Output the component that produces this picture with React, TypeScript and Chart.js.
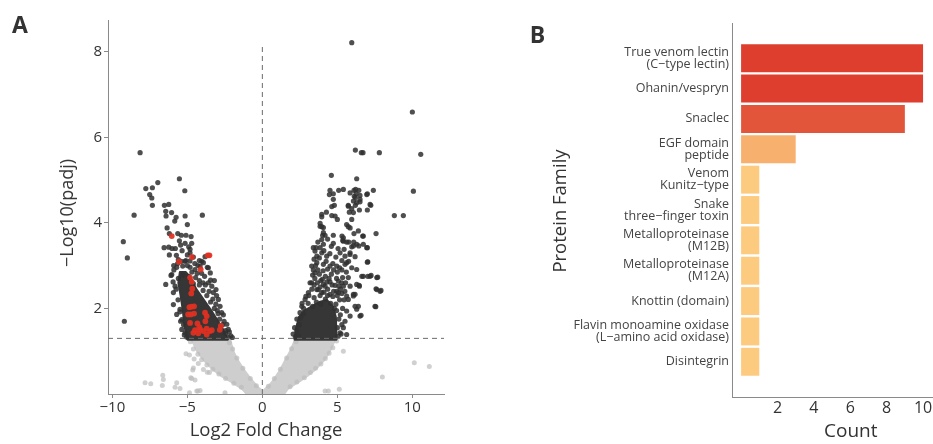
import { useEffect, useRef } from 'react';
import { Chart, registerables } from 'chart.js';

Chart.register(...registerables);

const FONT = "'Open Sans', sans-serif";

// ---------- Panel A: volcano plot ----------
const X_MIN = -10.29;
const X_MAX = 12.11;
const Y_MIN = 0;
const Y_MAX = 8.74;
const X_TICKS = [-10, -5, 0, 5, 10];
const Y_TICKS = [2, 4, 6, 8];
const PADJ_CUTOFF = 1.3; // -log10(0.05)
const CENTER_LINE_TOP = 8.2;

type Pt = [number, number];

// outline of the dense non-significant cloud (two arms of the V)
const NS_CLOUD_LEFT: Pt[] = [
  [-4.75, 1.29], [-4.55, 1.15], [-4.35, 1.0], [-4.1, 0.88], [-3.85, 0.77], [-3.5, 0.64],
  [-3.15, 0.53], [-2.7, 0.41], [-2.15, 0.3], [-1.75, 0.21], [-1.35, 0.12], [-1.05, 0.0],
  [0.02, 0.0], [0.03, 0.07], [-0.27, 0.15], [-0.64, 0.3], [-0.9, 0.41], [-1.15, 0.53],
  [-1.4, 0.66], [-1.6, 0.77], [-1.8, 0.9], [-1.93, 1.0], [-2.05, 1.15], [-2.15, 1.29],
];
const NS_CLOUD_RIGHT: Pt[] = [
  [2.2, 1.29], [2.0, 1.12], [1.85, 1.0], [1.7, 0.9], [1.5, 0.77], [1.3, 0.64], [1.13, 0.53],
  [0.9, 0.41], [0.69, 0.3], [0.45, 0.2], [0.29, 0.15], [0.05, 0.07], [0.0, 0.0], [1.45, 0.0],
  [1.7, 0.12], [2.1, 0.21], [2.5, 0.3], [3.0, 0.42], [3.4, 0.53], [3.75, 0.65], [4.07, 0.77],
  [4.3, 0.88], [4.5, 1.0], [4.7, 1.15], [4.85, 1.29],
];

// scattered non-significant genes
const NS_POINTS: Pt[] = [
  [-7.82, 0.26], [-7.44, 0.24], [-6.64, 0.44], [-6.6, 0.34], [-6.67, 0.2], [-5.71, 0.26],
  [-5.82, 0.16], [-5.49, 0.13], [-4.77, 0.38], [-4.49, 0.33], [-5.09, 0.94], [-4.86, 0.91],
  [-4.6, 0.61], [-4.27, 0.71], [-4.55, 0.82], [-3.93, 0.57], [-3.67, 0.51], [-4.86, 0.03],
  [-4.3, 0.07], [-3.53, 0.5], [-2.49, 0.03], [-4.71, 0.36], [-4.64, 0.56], [-4.15, 0.08],
  [-4.37, 0.07], [4.18, 0.07], [4.4, 0.07], [5.13, 0.11], [5.4, 1.0], [8.0, 0.4],
  [10.13, 0.73], [11.13, 0.64],
  [-4.8, 1.22], [-4.6, 1.05], [-4.3, 0.93], [-4.05, 0.8], [-3.7, 0.68], [-3.3, 0.58],
  [-2.9, 0.47], [-2.45, 0.36], [-1.9, 0.25], [-1.4, 0.16], [4.95, 1.24], [4.7, 1.08],
  [4.45, 0.95], [4.2, 0.83], [3.9, 0.7], [3.55, 0.6], [3.2, 0.5], [2.8, 0.38], [2.3, 0.28],
  [1.85, 0.17], [-2.2, 1.2], [-1.98, 1.05], [-1.7, 0.84], [-1.3, 0.6], [-0.8, 0.36],
  [-0.4, 0.19], [2.25, 1.22], [1.95, 1.06], [1.62, 0.84], [1.2, 0.58], [0.8, 0.36], [0.4, 0.18],
];

// outline of the densest significant clusters
const SIG_CORE_LEFT: Pt[] = [
  [-5.0, 1.27], [-5.2, 1.6], [-5.3, 1.95], [-5.45, 2.3], [-5.6, 2.6], [-5.5, 2.85],
  [-5.1, 2.85], [-4.75, 2.7], [-4.4, 2.45], [-3.9, 2.2], [-3.4, 1.95], [-2.95, 1.7],
  [-2.6, 1.5], [-2.3, 1.27],
];
const SIG_CORE_RIGHT: Pt[] = [
  [2.15, 1.27], [2.25, 1.55], [2.45, 1.8], [2.8, 1.95], [3.3, 2.05], [3.8, 2.15],
  [4.3, 2.2], [4.7, 2.05], [4.9, 1.8], [4.95, 1.27],
];

// significant genes, down-regulated side
const SIG_LEFT: Pt[] = [
  [-8.15, 5.64], [-9.27, 3.56], [-9.0, 3.18], [-9.2, 1.7], [-8.55, 4.18], [-7.77, 4.8],
  [-7.33, 4.82], [-6.97, 4.94], [-7.51, 4.66], [-7.37, 4.58], [-7.33, 4.41], [-5.53, 5.03],
  [-5.17, 4.75], [-4.0, 4.18], [-6.53, 4.41], [-6.24, 4.43], [-6.44, 4.27], [-6.05, 4.24],
  [-6.42, 4.16], [-5.75, 4.13], [-5.15, 4.16], [-5.84, 4.04], [-5.0, 3.96], [-6.35, 3.88],
  [-6.2, 3.75], [-5.64, 3.75], [-5.4, 3.71], [-5.09, 3.71], [-4.75, 3.68], [-5.53, 3.58],
  [-5.15, 3.52], [-4.71, 3.52], [-4.91, 3.44], [-6.55, 3.42], [-6.24, 3.43], [-6.02, 3.4],
  [-5.8, 3.4], [-4.82, 3.38], [-4.82, 3.3], [-6.2, 3.25], [-3.82, 3.21], [-5.73, 3.24],
  [-5.6, 3.14], [-5.15, 3.1], [-4.82, 3.11], [-4.2, 3.12], [-4.04, 3.1], [-5.91, 3.0],
  [-5.71, 2.96], [-5.31, 2.99], [-4.82, 2.96], [-4.49, 2.91], [-3.67, 2.96], [-3.47, 2.83],
  [-6.09, 2.77], [-6.44, 2.56], [-6.04, 2.79], [-3.6, 2.6], [-3.37, 2.52], [-3.27, 2.37],
  [-3.09, 2.44], [-2.93, 2.21], [-2.82, 2.05], [-2.71, 1.9], [-2.55, 1.7], [-2.37, 1.63],
  [-2.27, 1.51], [-5.49, 1.98], [-5.71, 1.86], [-5.93, 2.09], [-5.37, 1.74], [-5.37, 1.51],
  [-5.15, 1.43], [-5.93, 2.37], [-5.82, 2.52], [-4.15, 2.99], [-3.93, 3.07], [-3.6, 2.95],
  [-2.1, 1.36], [-2.2, 1.45], [-3.85, 2.75], [-4.05, 2.82], [-3.45, 2.66], [-4.6, 3.2],
  [-5.0, 3.25], [-5.35, 3.35], [-5.45, 3.48], [-4.5, 3.05], [-3.2, 2.65], [-4.2, 2.65],
  [-3.05, 2.3], [-2.6, 1.85], [-2.45, 1.48], [-5.05, 1.33], [-5.25, 1.62],
  [-5.2, 1.38], [-5.45, 1.7], [-5.5, 1.92], [-5.62, 2.2], [-5.75, 2.45], [-5.95, 2.62],
  [-5.9, 2.9], [-5.65, 3.05], [-5.4, 3.1], [-5.0, 3.0], [-4.7, 2.85], [-4.45, 2.72],
  [-4.2, 2.55], [-3.95, 2.42], [-3.7, 2.3], [-3.45, 2.15], [-3.2, 2.0], [-3.0, 1.95],
  [-2.85, 1.75], [-2.65, 1.62], [-2.45, 1.42], [-2.3, 1.33], [-2.0, 1.32], [-5.6, 2.7],
  [-5.3, 2.78], [-4.9, 2.75], [-4.6, 2.58], [-4.35, 2.82], [-3.8, 2.55], [-3.55, 2.4],
  [-3.3, 2.22], [-3.1, 2.1], [-2.95, 1.88], [-5.1, 3.12], [-4.3, 3.0], [-3.95, 2.6],
];

// significant genes, up-regulated side
const SIG_RIGHT: Pt[] = [
  [5.96, 8.21], [10.0, 6.59], [10.56, 5.6], [6.2, 5.7], [6.6, 5.64], [6.71, 5.64], [7.8, 5.64],
  [4.6, 5.11], [6.29, 5.03], [10.07, 4.74], [4.51, 4.76], [5.09, 4.76], [5.4, 4.78], [5.85, 4.7],
  [6.11, 4.76], [6.43, 4.76], [6.25, 4.68], [6.51, 4.64], [7.0, 4.68], [7.4, 4.76], [4.73, 4.68],
  [4.47, 4.66], [6.2, 4.59], [6.07, 4.51], [4.8, 4.41], [4.63, 4.38], [5.73, 4.41], [6.2, 4.41],
  [5.96, 4.33], [6.47, 4.3], [7.0, 4.3], [7.23, 4.41], [5.8, 4.25], [4.27, 4.25], [3.96, 4.14],
  [4.63, 4.17], [8.8, 4.17], [9.4, 4.17], [5.0, 4.08], [5.96, 4.08], [3.85, 3.99], [3.96, 3.91],
  [4.07, 3.89], [5.62, 3.96], [5.73, 3.91], [5.85, 3.88], [6.11, 3.75], [6.73, 3.69], [7.58, 3.75],
  [4.02, 3.71], [4.18, 3.71], [4.73, 3.71], [5.31, 3.69], [3.96, 3.61], [5.4, 3.57], [5.76, 3.55],
  [6.09, 3.55], [6.43, 3.46], [6.73, 3.5], [7.0, 3.42], [3.58, 3.42], [3.85, 3.42], [4.07, 3.5],
  [4.73, 3.52], [5.36, 3.59], [5.96, 3.44], [6.29, 3.5], [3.51, 3.34], [3.96, 3.3], [4.29, 3.22],
  [5.18, 3.3], [5.51, 3.22], [5.84, 3.26], [6.18, 3.21], [7.0, 3.08], [3.63, 3.07], [4.07, 3.03],
  [4.51, 2.99], [4.96, 2.99], [5.51, 3.03], [5.96, 2.95], [6.29, 2.91], [6.63, 2.75], [7.18, 2.75],
  [7.63, 2.72], [3.29, 2.6], [3.67, 2.6], [4.07, 2.56], [4.51, 2.62], [4.85, 2.54], [5.29, 2.6],
  [5.85, 2.52], [6.29, 2.56], [6.47, 2.52], [7.63, 2.44], [7.85, 2.4], [3.63, 2.44], [3.96, 2.37],
  [4.51, 2.33], [5.07, 2.37], [5.62, 2.29], [6.07, 2.33], [6.4, 2.05], [6.29, 1.98], [7.51, 2.05],
  [6.51, 1.82], [3.96, 4.2], [4.85, 4.16], [3.85, 3.92], [4.07, 3.77], [3.4, 3.42], [3.63, 3.22],
  [3.29, 2.99], [3.51, 2.83], [3.18, 2.6], [3.07, 2.37], [2.85, 2.21], [2.63, 2.05], [2.51, 1.9],
  [3.73, 2.44], [4.18, 2.52], [5.07, 2.64], [5.4, 2.52], [5.73, 2.72], [5.62, 3.07], [5.85, 3.3],
  [6.07, 3.46], [5.62, 3.55], [5.4, 3.65], [6.4, 3.81], [6.07, 4.24], [5.73, 4.39], [6.29, 4.47],
  [6.51, 4.55], [6.13, 4.62], [6.22, 4.78], [4.73, 4.55], [7.69, 2.73], [7.58, 2.46], [7.91, 2.42],
  [7.56, 2.04], [7.03, 3.09], [6.96, 3.42], [6.69, 3.69], [6.73, 2.75], [7.03, 2.75], [7.25, 2.77],
  [6.45, 2.54], [6.58, 1.84], [6.18, 2.33], [7.18, 4.43], [6.51, 4.49], [6.96, 4.66], [5.73, 2.21],
  [6.07, 2.29], [6.18, 2.05], [5.62, 1.94], [5.85, 1.82], [5.51, 1.7], [5.4, 1.55], [5.62, 1.39],
  [5.18, 1.43], [5.25, 1.4], [5.3, 1.62], [5.2, 1.85], [5.35, 2.0], [5.15, 2.2], [2.05, 1.4],
  [2.15, 1.55], [2.3, 1.75], [2.65, 2.12], [2.9, 2.28], [3.4, 2.9], [3.8, 2.8], [4.2, 2.75],
  [4.6, 2.8], [5.0, 2.85], [5.3, 2.9], [3.5, 2.7], [3.9, 2.65], [4.35, 2.45], [4.75, 2.4],
  [5.2, 2.45], [5.5, 2.4], [3.3, 2.45],
  [2.75, 2.0], [3.05, 2.12], [3.35, 2.05], [3.6, 2.15], [3.9, 2.1], [4.2, 2.22], [4.55, 2.12],
  [4.8, 2.0], [5.0, 2.3], [4.9, 2.1], [3.1, 2.3], [3.45, 2.25], [3.85, 2.3], [4.1, 2.38],
  [4.35, 2.3], [4.7, 2.28], [4.95, 2.4], [5.3, 2.35], [5.45, 2.2], [3.45, 2.55], [3.85, 2.5],
  [4.3, 2.62], [4.65, 2.55], [5.1, 2.52], [5.55, 2.6], [4.0, 2.68], [4.45, 2.7], [4.95, 2.7],
  [5.35, 2.72], [3.35, 2.78], [3.7, 2.9], [4.05, 2.88], [4.35, 2.92], [4.75, 2.9], [5.15, 2.95],
  [5.6, 2.85], [3.55, 3.0], [4.25, 3.1], [4.7, 3.05], [5.3, 3.12], [5.75, 3.1], [3.45, 3.15],
  [3.8, 3.18], [4.1, 3.35], [4.5, 3.28], [4.9, 3.2], [5.05, 3.4], [5.45, 3.38], [4.6, 3.45],
  [3.7, 3.55], [4.35, 3.62], [2.2, 1.33], [2.3, 1.48], [2.45, 1.62], [2.55, 1.78], [2.75, 1.88],
  [2.4, 1.36], [5.05, 1.35], [5.0, 1.55], [5.1, 1.75], [4.95, 1.95],
];

// highlighted toxin genes
const TOXIN_POINTS: Pt[] = [
  [-6.04, 3.69], [-4.69, 3.2], [-3.64, 3.24], [-3.53, 3.24], [-5.55, 3.09], [-4.11, 2.91],
  [-4.82, 2.72], [-4.71, 2.62], [-4.67, 2.46], [-4.74, 2.35], [-4.86, 2.03], [-4.71, 2.04],
  [-4.55, 2.05], [-4.95, 1.86], [-4.77, 1.86], [-4.55, 1.88], [-3.82, 1.9], [-3.71, 1.82],
  [-4.82, 1.66], [-4.33, 1.65], [-4.2, 1.56], [-3.8, 1.7], [-4.49, 1.49], [-4.15, 1.51],
  [-3.93, 1.47], [-3.71, 1.53], [-3.49, 1.47], [-3.37, 1.49], [-2.77, 1.59], [-2.84, 1.5],
  [-3.71, 1.39], [-4.27, 1.42], [-4.6, 1.43],
];

// ---------- Panel B: protein families ----------
const FAMILY_LABELS: string[][] = [
  ['True venom lectin', '(C\u2212type lectin)'],
  ['Ohanin/vespryn'],
  ['Snaclec'],
  ['EGF domain', 'peptide'],
  ['Venom', 'Kunitz\u2212type'],
  ['Snake', 'three\u2212finger toxin'],
  ['Metalloproteinase', '(M12B)'],
  ['Metalloproteinase', '(M12A)'],
  ['Knottin (domain)'],
  ['Flavin monoamine oxidase', '(L\u2212amino acid oxidase)'],
  ['Disintegrin'],
];
const FAMILY_COUNTS = [10, 10, 9, 3, 1, 1, 1, 1, 1, 1, 1];
const COUNT_TICKS = [2, 4, 6, 8, 10];

// fill colour graded by count
const countColor = (c: number) =>
  c >= 10 ? '#DD3E2E' : c >= 9 ? '#E3553A' : c >= 3 ? '#F7B06E' : '#FDCB80';

const toXY = (pts: Pt[]) => pts.map(([x, y]) => ({ x, y }));
const minus = (v: number) => (v < 0 ? '\u2212' + Math.abs(v) : String(v));

// fills a closed outline given in data coordinates
const polygonFill = {
  id: 'polygonFill',
  beforeDatasetDraw(chart: any, args: any) {
    const ds = chart.data.datasets[args.index];
    if (!ds.outlineColor) return;
    const { ctx, chartArea: a } = chart;
    const xs = chart.scales.x;
    const ys = chart.scales.y;
    ctx.save();
    ctx.beginPath();
    ctx.rect(a.left, a.top, a.right - a.left, a.bottom - a.top);
    ctx.clip();
    ctx.beginPath();
    ds.data.forEach((p: any, i: number) => {
      const px = xs.getPixelForValue(p.x);
      const py = ys.getPixelForValue(p.y);
      if (i === 0) ctx.moveTo(px, py);
      else ctx.lineTo(px, py);
    });
    ctx.closePath();
    ctx.fillStyle = ds.outlineColor;
    ctx.strokeStyle = ds.outlineColor;
    ctx.lineJoin = 'round';
    ctx.lineWidth = 2;
    ctx.fill();
    ctx.stroke();
    ctx.restore();
  },
};

const axisGrid = { display: true, drawOnChartArea: false, drawTicks: true, tickLength: 4, color: '#8a8a8a' };
const axisBorder = { display: true, color: '#8a8a8a', width: 1 };
const noGrid = { display: false, drawTicks: false, tickLength: 0 };

const outline = (pts: Pt[], color: string, order: number) => ({
  type: 'scatter' as const,
  data: toXY(pts),
  outlineColor: color,
  pointRadius: 0,
  showLine: false,
  order,
});

const dots = (pts: Pt[], color: string, radius: number, order: number) => ({
  type: 'scatter' as const,
  data: toXY(pts),
  backgroundColor: color,
  borderWidth: 0,
  pointRadius: radius,
  order,
});

const dashed = (pts: Pt[]) => ({
  type: 'line' as const,
  data: toXY(pts),
  borderColor: '#6b6b6b',
  borderWidth: 1,
  borderDash: [5, 4],
  pointRadius: 0,
  fill: false,
  order: 0,
});

const textStyle = (size: number, bold = false): any => ({
  position: 'absolute',
  fontFamily: FONT,
  fontSize: size,
  fontWeight: bold ? 700 : 400,
  color: '#333',
  lineHeight: 1,
  whiteSpace: 'nowrap',
});

export default function App() {
  const volcanoRef = useRef<HTMLCanvasElement>(null);
  const barRef = useRef<HTMLCanvasElement>(null);

  useEffect(() => {
    const volcano = new Chart(volcanoRef.current as HTMLCanvasElement, {
      type: 'scatter',
      data: {
        datasets: [
          outline(NS_CLOUD_LEFT, '#CECECE', 7),
          outline(NS_CLOUD_RIGHT, '#CECECE', 7),
          dots(NS_POINTS, 'rgba(188,188,188,0.7)', 2.5, 6),
          outline(SIG_CORE_LEFT, '#363636', 5),
          outline(SIG_CORE_RIGHT, '#363636', 5),
          dots(SIG_LEFT, 'rgba(48,48,48,0.85)', 2.6, 4),
          dots(SIG_RIGHT, 'rgba(48,48,48,0.85)', 2.6, 4),
          dots(TOXIN_POINTS, 'rgba(224,48,33,0.93)', 2.9, 2),
          dashed([[X_MIN, PADJ_CUTOFF], [X_MAX, PADJ_CUTOFF]]),
          dashed([[0, Y_MIN], [0, CENTER_LINE_TOP]]),
        ] as any,
      },
      options: {
        animation: false,
        responsive: false,
        events: [],
        layout: { padding: { top: 20, right: 16, left: 0, bottom: 0 } },
        plugins: { legend: { display: false }, tooltip: { enabled: false } },
        scales: {
          x: {
            type: 'linear',
            min: X_MIN,
            max: X_MAX,
            afterBuildTicks: (s: any) => {
              s.ticks = X_TICKS.map((value) => ({ value }));
            },
            afterFit: (s: any) => {
              s.height = 50;
            },
            ticks: {
              callback: (v: any) => minus(Number(v)),
              font: { family: FONT, size: 15 },
              color: '#333',
              padding: 1,
              maxRotation: 0,
            },
            grid: axisGrid,
            border: axisBorder,
          },
          y: {
            type: 'linear',
            min: Y_MIN,
            max: Y_MAX,
            afterBuildTicks: (s: any) => {
              s.ticks = Y_TICKS.map((value) => ({ value }));
            },
            afterFit: (s: any) => {
              s.width = 108;
            },
            ticks: {
              callback: (v: any) => String(v),
              font: { family: FONT, size: 15 },
              color: '#333',
              padding: 2,
            },
            grid: axisGrid,
            border: axisBorder,
          },
        },
      } as any,
      plugins: [polygonFill],
    });

    const bars = new Chart(barRef.current as HTMLCanvasElement, {
      type: 'bar',
      data: {
        datasets: [
          {
            data: FAMILY_COUNTS.map((c, i) => ({ x: c, y: i })),
            backgroundColor: FAMILY_COUNTS.map(countColor),
            borderWidth: 0,
            barPercentage: 0.92,
            categoryPercentage: 1,
          },
        ] as any,
      },
      options: {
        indexAxis: 'y',
        animation: false,
        responsive: false,
        events: [],
        layout: { padding: { top: 23, right: 10, left: 0, bottom: 0 } },
        plugins: { legend: { display: false }, tooltip: { enabled: false } },
        scales: {
          x: {
            type: 'linear',
            min: -0.5,
            max: 12.58,
            afterBuildTicks: (s: any) => {
              s.ticks = COUNT_TICKS.map((value) => ({ value }));
            },
            afterFit: (s: any) => {
              s.height = 47;
            },
            ticks: {
              callback: (v: any) => String(v),
              font: { family: FONT, size: 16 },
              color: '#333',
              padding: 2,
              maxRotation: 0,
            },
            grid: noGrid,
            border: axisBorder,
          },
          y: {
            type: 'linear',
            reverse: true,
            min: -0.6,
            max: 10.6,
            afterBuildTicks: (s: any) => {
              s.ticks = FAMILY_LABELS.map((_, value) => ({ value }));
            },
            afterFit: (s: any) => {
              s.width = 262;
            },
            ticks: {
              autoSkip: false,
              callback: (v: any) => FAMILY_LABELS[Number(v)] ?? '',
              font: { family: FONT, size: 12.5, lineHeight: '12px' },
              color: '#444',
              padding: 3,
            },
            grid: noGrid,
            border: axisBorder,
          },
        },
      } as any,
    });

    return () => {
      volcano.destroy();
      bars.destroy();
    };
  }, []);

  return (
    <div
      style={{
        position: 'fixed',
        left: 0,
        top: 0,
        width: 933,
        height: 444,
        overflow: 'hidden',
        background: '#fff',
      }}
    >
      <canvas ref={volcanoRef} width={460} height={444} style={{ position: 'absolute', left: 0, top: 0 }} />
      <canvas ref={barRef} width={510} height={444} style={{ position: 'absolute', left: 470, top: 0 }} />

      <div style={{ ...textStyle(23, true), left: 20, top: 23.5, transform: 'translate(-50%,-50%)' }}>A</div>
      <div style={{ ...textStyle(23, true), left: 537.5, top: 33.5, transform: 'translate(-50%,-50%)' }}>B</div>

      <div style={{ ...textStyle(18), left: 66, top: 212.5, transform: 'translate(-50%,-50%) rotate(-90deg)' }}>
        {'\u2212Log10(padj)'}
      </div>
      <div style={{ ...textStyle(18.5), left: 266, top: 428.5, transform: 'translate(-50%,-50%)' }}>
        Log2 Fold Change
      </div>
      <div style={{ ...textStyle(18.5), left: 558.8, top: 211.2, transform: 'translate(-50%,-50%) rotate(-90deg)' }}>
        Protein Family
      </div>
      <div style={{ ...textStyle(19), left: 850.8, top: 429.7, transform: 'translate(-50%,-50%)' }}>Count</div>
    </div>
  );
}
